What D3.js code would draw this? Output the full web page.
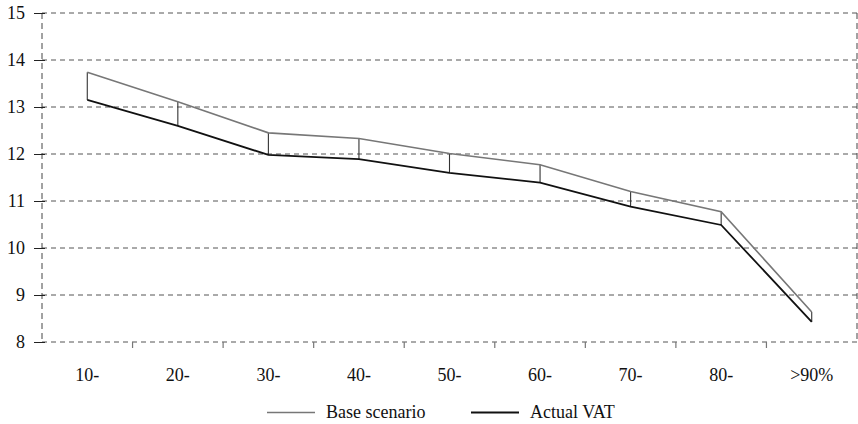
<!DOCTYPE html>
<html><head><meta charset="utf-8">
<script src="https://cdn.jsdelivr.net/npm/d3@7"></script>
<style>body{margin:0;background:#fff}svg{display:block}</style>
</head><body><svg id="c" width="858" height="424"></svg>
<script>
const categories = ["10-","20-","30-","40-","50-","60-","70-","80-",">90%"];
const baseScenario = [13.74,13.11,12.45,12.33,12.01,11.77,11.20,10.77,8.64];
const actualVAT = [13.15,12.60,11.98,11.89,11.60,11.39,10.88,10.49,8.43];
const yTicks = [8,9,10,11,12,13,14,15];
const seriesNames = ["Base scenario","Actual VAT"];

const FONT = "font-family:'Liberation Serif','Times New Roman',serif;font-size:18px";
const svg = d3.select("#c");
const L = 42, R = 857, T = 13, B = 342;
const x = d3.scaleBand().domain(categories).range([L, R]);
const y = d3.scaleLinear().domain([8,15]).range([B, T]);
const cx = d => x(d) + x.bandwidth()/2;

// horizontal dashed grid
svg.append("g").selectAll("line").data(yTicks).join("line")
  .attr("x1", L).attr("x2", R).attr("y1", d=>y(d)).attr("y2", d=>y(d))
  .attr("stroke","#555").attr("stroke-width",1).attr("stroke-dasharray","5,4");
// left and right dashed verticals
[L, R].forEach(xx => svg.append("line").attr("x1",xx).attr("x2",xx).attr("y1",T).attr("y2",B)
  .attr("stroke","#444").attr("stroke-width",1).attr("stroke-dasharray","6,4"));

// y axis ticks and labels
const yAxis = d3.axisLeft(y).tickValues(yTicks).tickSize(8).tickPadding(9).tickFormat(d3.format("d"));
const gy = svg.append("g").attr("transform",`translate(${L+3},0)`).call(yAxis);
gy.select(".domain").remove();
gy.selectAll(".tick line").attr("stroke","#222").attr("x2",-11).attr("x1",0);
gy.selectAll(".tick text").attr("x",-20).attr("style",FONT).attr("fill","#111");

// x ticks at band boundaries
svg.append("g").selectAll("line").data(categories.slice(1)).join("line")
  .attr("x1", d=>x(d)).attr("x2", d=>x(d)).attr("y1", B).attr("y2", B+6)
  .attr("stroke","#777").attr("stroke-width",1.2);
// x labels
svg.append("g").selectAll("text").data(categories).join("text")
  .attr("x", d=>cx(d)).attr("y", 381).attr("text-anchor","middle")
  .attr("style",FONT).attr("fill","#111").text(d=>d);

// connectors
svg.append("g").selectAll("line").data(categories).join("line")
  .attr("x1", d=>cx(d)).attr("x2", d=>cx(d))
  .attr("y1", (d,i)=>y(baseScenario[i])).attr("y2", (d,i)=>y(actualVAT[i]))
  .attr("stroke","#333").attr("stroke-width",1.1);

const line = d3.line().x((d,i)=>cx(categories[i])).y(d=>y(d));
svg.append("path").datum(baseScenario).attr("d",line).attr("fill","none")
  .attr("stroke","#777").attr("stroke-width",1.6);
svg.append("path").datum(actualVAT).attr("d",line).attr("fill","none")
  .attr("stroke","#111").attr("stroke-width",1.8);

// legend
const leg = [{n:seriesNames[0],c:"#777",w:1.6,x:267},{n:seriesNames[1],c:"#111",w:1.8,x:471}];
leg.forEach(l => {
  svg.append("line").attr("x1",l.x).attr("x2",l.x+48).attr("y1",412.5).attr("y2",412.5)
    .attr("stroke",l.c).attr("stroke-width",l.w);
  svg.append("text").attr("x",l.x+59).attr("y",418).attr("style",FONT).attr("fill","#111").text(l.n);
});
</script></body></html>
